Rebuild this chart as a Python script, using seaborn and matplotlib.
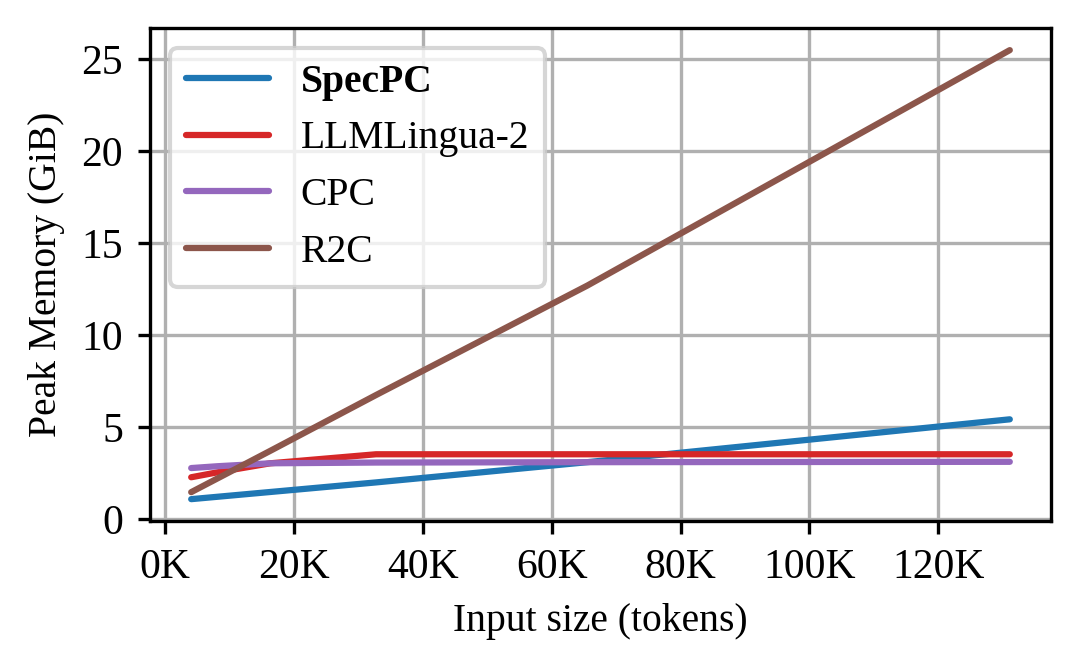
import matplotlib
matplotlib.use("Agg")
import matplotlib.pyplot as plt
import seaborn as sns
import pandas as pd

x_tokens = [4096, 8192, 16384, 32768, 65536, 131072]
specpc = [1.09, 1.22, 1.48, 2.00, 3.10, 5.43]
llmlingua2 = [2.28, 2.55, 3.04, 3.53, 3.53, 3.53]
cpc = [2.78, 2.88, 3.04, 3.08, 3.10, 3.12]
r2c = [1.47, 2.22, 3.72, 6.75, 12.7, 25.5]

methods = ["SpecPC", "LLMLingua-2", "CPC", "R2C"]
colors = ["#1f77b4", "#d62728", "#9467bd", "#8c564b"]

rows = []
for name, vals in zip(methods, [specpc, llmlingua2, cpc, r2c]):
    for xv, yv in zip(x_tokens, vals):
        rows.append({"x": xv, "y": yv, "method": name})
df = pd.DataFrame(rows)

sns.set_theme(style="ticks")
plt.rcParams["font.family"] = ["Liberation Serif", "DejaVu Serif"]
plt.rcParams["font.size"] = 10
plt.rcParams["text.color"] = "black"
plt.rcParams["axes.labelcolor"] = "black"
plt.rcParams["xtick.color"] = "black"
plt.rcParams["ytick.color"] = "black"

fig, ax = plt.subplots(figsize=(1081/300, 668/300), dpi=300)
sns.lineplot(data=df, x="x", y="y", hue="method", hue_order=methods,
             palette=colors, linewidth=1.5, ax=ax, legend=True)

ax.grid(True, color="#b0b0b0", linewidth=0.8)
ax.set_axisbelow(True)
ax.set_xlim(-2253, 137421)
ax.set_ylim(-0.1, 26.7)
ax.set_xticks([0, 20000, 40000, 60000, 80000, 100000, 120000])
ax.set_xticklabels(["0K", "20K", "40K", "60K", "80K", "100K", "120K"])
ax.set_yticks([0, 5, 10, 15, 20, 25])
ax.tick_params(axis="both", labelsize=10, length=3, width=0.8, color="black",
               labelcolor="black", direction="out")
for s in ax.spines.values():
    s.set_color("black")
    s.set_linewidth(0.8)
ax.set_xlabel("Input size (tokens)", fontsize=9.5, color="black")
ax.set_ylabel("Peak Memory (GiB)", fontsize=9.5, color="black")

leg = ax.legend(loc="upper left", fontsize=9.5, frameon=True, framealpha=0.8,
                handlelength=2.1)
leg.get_frame().set_edgecolor("#cccccc")
for t in leg.get_texts():
    t.set_color("black")
    if t.get_text() == "SpecPC":
        t.set_fontweight("bold")

fig.subplots_adjust(left=0.139, right=0.972, top=0.958, bottom=0.22)
fig.savefig("out.png", dpi=300)
